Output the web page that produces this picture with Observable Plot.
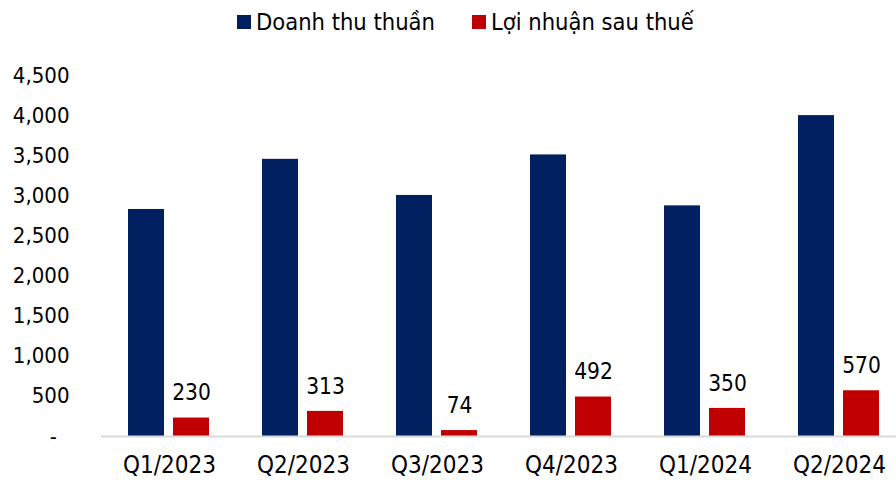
<!DOCTYPE html>
<html>
<head>
<meta charset="utf-8">
<script src="https://cdn.jsdelivr.net/npm/d3@7"></script>
<script src="https://cdn.jsdelivr.net/npm/@observablehq/plot@0.6"></script>
<style>
  html, body { margin: 0; padding: 0; background: #fff; }
  body { width: 896px; height: 484px; overflow: hidden; font-family: "DejaVu Sans Condensed", "DejaVu Sans", sans-serif; }
  #legend { position: relative; height: 46px; font-size: 23.5px; color: #000; }
  .item { position: absolute; top: 8px; display: flex; align-items: center; white-space: nowrap; }
  .sw { width: 14px; height: 14px; margin-right: 5px; }
</style>
</head>
<body>
<div id="legend"></div>
<div id="chart"></div>
<script>
const quarters = ["Q1/2023", "Q2/2023", "Q3/2023", "Q4/2023", "Q1/2024", "Q2/2024"];
const revenue = [2830, 3455, 3005, 3510, 2875, 4000];
const profit = [230, 313, 74, 492, 350, 570];
const seriesNames = ["Doanh thu thuần", "Lợi nhuận sau thuế"];
const seriesColors = ["#002060", "#C00000"];
const yTicks = [0, 500, 1000, 1500, 2000, 2500, 3000, 3500, 4000, 4500];

// legend
const legend = document.getElementById("legend");
const legendLeft = [237, 472];
seriesNames.forEach((name, i) => {
  const it = document.createElement("div");
  it.className = "item";
  it.style.left = legendLeft[i] + "px";
  it.innerHTML = `<span class="sw" style="background:${seriesColors[i]}"></span><span>${name}</span>`;
  legend.appendChild(it);
});

const revData = quarters.map((q, i) => ({q, v: revenue[i]}));
const profData = quarters.map((q, i) => ({q, v: profit[i]}));

const fontFam = "'DejaVu Sans Condensed', 'DejaVu Sans', sans-serif";
const chart = Plot.plot({
  width: 896,
  height: 438,
  marginLeft: 101,
  marginRight: 0,
  marginTop: 29,
  marginBottom: 48,
  style: {fontFamily: fontFam, fontSize: "22px", color: "#000", background: "#fff", overflow: "visible"},
  x: {domain: quarters, range: [101, 907], padding: 0, label: null},
  y: {domain: [0, 4500], label: null},
  marks: [
    Plot.axisY({ticks: yTicks, tickSize: 0, tickPadding: 32, fontSize: 22,
      tickFormat: d => d === 0 ? "-\u00a0\u00a0" : d3.format(",")(d)}),
    Plot.axisX({tickSize: 0, tickPadding: 19, fontSize: 24}),
    Plot.barY(revData, {x: "q", y: "v", fill: seriesColors[0], insetLeft: 26, insetRight: 72}),
    Plot.barY(profData, {x: "q", y: "v", fill: seriesColors[1], insetLeft: 71, insetRight: 27}),
    Plot.ruleY([0], {stroke: "#d9d9d9", strokeWidth: 2}),
    Plot.text(profData, {x: "q", y: "v", text: d => String(d.v), dx: 22, dy: -25, fontSize: 22.5, fill: "#000", lineAnchor: "middle"})
  ]
});
document.getElementById("chart").appendChild(chart);
</script>
</body>
</html>
